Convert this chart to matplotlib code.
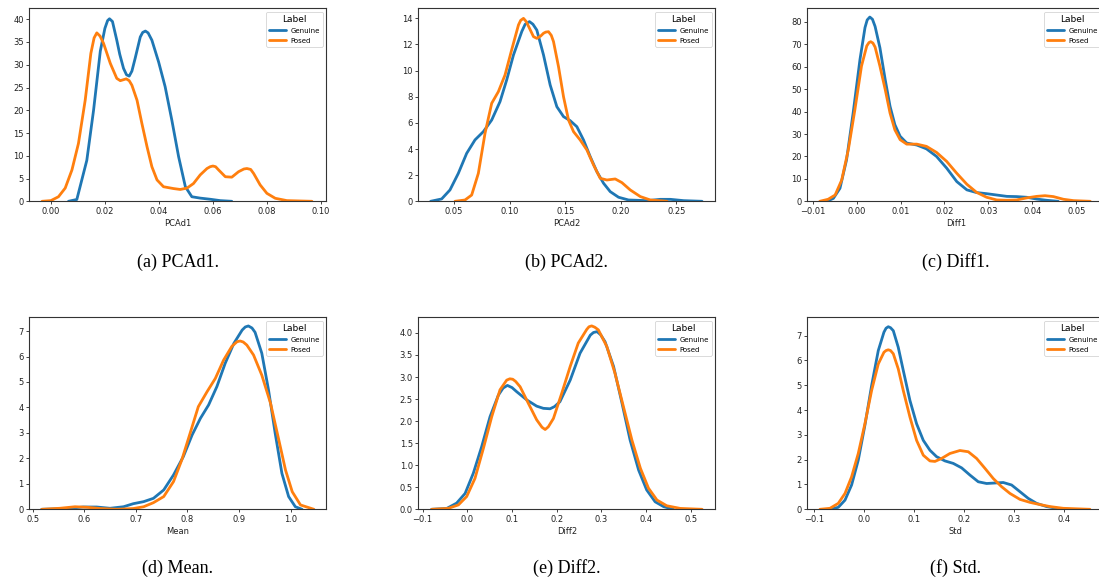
import matplotlib
matplotlib.use("Agg")
import matplotlib.pyplot as plt

# ---------------- data ----------------
labels = ["Genuine", "Posed"]
colors = ["#1f77b4", "#ff7f0e"]

pcad1_gen_x = [0.0065, 0.0096, 0.0133, 0.0158, 0.0183, 0.02, 0.021, 0.0217, 0.0228, 0.0244, 0.0255, 0.0269,
               0.028, 0.029, 0.030, 0.0312, 0.0331, 0.034, 0.035, 0.036, 0.0374, 0.0399, 0.0423, 0.0448,
               0.0473, 0.0498, 0.0522, 0.0553, 0.059, 0.0627, 0.067]
pcad1_gen_y = [0.0, 0.4, 9.0, 20.0, 33.0, 38.0, 39.7, 40.1, 39.5, 35.4, 32.3, 29.2,
               27.8, 27.5, 28.6, 31.4, 36.1, 37.1, 37.4, 37.0, 35.4, 30.6, 25.2, 17.8,
               9.8, 3.2, 1.0, 0.7, 0.45, 0.15, 0.0]
pcad1_pos_x = [-0.0033, 0.0, 0.0028, 0.0053, 0.0078, 0.0102, 0.0127, 0.0148, 0.016, 0.017, 0.0182, 0.0195,
               0.022, 0.0244, 0.0257, 0.0268, 0.0279, 0.0290, 0.03, 0.0319, 0.0337, 0.0356, 0.0374, 0.0393,
               0.0417, 0.0454, 0.0479, 0.0504, 0.0528, 0.0553, 0.0578, 0.059, 0.06, 0.061, 0.0621, 0.0646,
               0.067, 0.0695, 0.0715, 0.0726, 0.074, 0.0751, 0.0775, 0.08, 0.0831, 0.0874, 0.0967]
pcad1_pos_y = [0.0, 0.15, 1.0, 2.9, 6.9, 12.7, 22.2, 32.5, 35.9, 37.0, 36.3, 34.7,
               30.3, 27.0, 26.5, 26.7, 26.9, 26.5, 25.5, 22.2, 17.1, 12.0, 7.6, 4.7,
               3.2, 2.8, 2.6, 2.9, 3.9, 5.8, 7.2, 7.6, 7.75, 7.6, 6.9, 5.4,
               5.3, 6.5, 7.1, 7.2, 7.0, 6.1, 3.6, 1.75, 0.66, 0.15, 0.0]

pcad2_gen_x = [0.029, 0.0389, 0.0464, 0.0539, 0.0614, 0.0689, 0.0764, 0.0839, 0.0914, 0.0974, 0.1035, 0.111,
               0.114, 0.1179, 0.121, 0.1245, 0.1305, 0.1365, 0.1425, 0.1485, 0.1545, 0.1605, 0.1665, 0.1725,
               0.1785, 0.1845, 0.1905, 0.198, 0.207, 0.2236, 0.2356, 0.2446, 0.2566, 0.2731]
pcad2_gen_y = [0.0, 0.18, 0.87, 2.14, 3.67, 4.7, 5.33, 6.22, 7.63, 9.29, 11.2, 13.0,
               13.55, 13.75, 13.55, 13.1, 11.2, 8.9, 7.24, 6.48, 6.17, 5.71, 4.69, 3.42,
               2.27, 1.38, 0.74, 0.31, 0.1, 0.05, 0.15, 0.15, 0.05, 0.0]
pcad2_pos_x = [0.0509, 0.0599, 0.0659, 0.0719, 0.0779, 0.0839, 0.0899, 0.0959, 0.1019, 0.108, 0.110, 0.1125,
               0.115, 0.1179, 0.1215, 0.1245, 0.128, 0.1305, 0.1325, 0.135, 0.1375, 0.1395, 0.144, 0.1485,
               0.153, 0.1575, 0.1635, 0.1695, 0.1755, 0.1815, 0.1875, 0.195, 0.201, 0.2085, 0.2176, 0.2266,
               0.2416]
pcad2_pos_y = [0.0, 0.1, 0.48, 2.14, 5.2, 7.5, 8.39, 9.67, 11.6, 13.5, 13.85, 14.0,
               13.75, 13.24, 12.6, 12.47, 12.65, 12.86, 12.95, 12.98, 12.7, 12.22, 10.3, 8.0,
               6.22, 5.33, 4.69, 3.93, 2.78, 1.76, 1.63, 1.71, 1.43, 0.87, 0.36, 0.1,
               0.0]

diff1_gen_x = [-0.0068, -0.0053, -0.0038, -0.0023, -0.0008, 0.00076, 0.0019, 0.0024, 0.003, 0.0036, 0.0042,
               0.0053, 0.0065, 0.0076, 0.0087, 0.0099, 0.0114, 0.0137, 0.0159, 0.0182, 0.0205, 0.0228,
               0.0251, 0.0273, 0.0296, 0.0319, 0.0342, 0.0364, 0.0387, 0.041, 0.0433, 0.0459]
diff1_gen_y = [0.0, 1.3, 5.8, 18.5, 39.4, 63.3, 77.5, 80.9, 82.2, 81.2, 78.0,
               68.5, 54.3, 42.4, 34.2, 29.0, 26.0, 25.1, 23.4, 20.0, 14.8, 8.8,
               5.1, 3.9, 3.4, 2.8, 2.2, 2.1, 1.8, 1.0, 0.45, 0.0]
diff1_pos_x = [-0.0084, -0.0065, -0.0049, -0.0034, -0.0019, -0.0004, 0.0011, 0.0023, 0.0028, 0.0032, 0.0037,
               0.0042, 0.0053, 0.0065, 0.0076, 0.0087, 0.0099, 0.0114, 0.0137, 0.0159, 0.0182, 0.0205,
               0.0228, 0.0251, 0.0273, 0.0296, 0.0319, 0.0342, 0.0364, 0.0387, 0.041, 0.0429, 0.0448,
               0.0471, 0.0494, 0.0532]
diff1_pos_y = [0.0, 0.9, 2.8, 9.5, 23.0, 40.9, 60.3, 69.3, 70.8, 71.2, 70.6,
               68.8, 60.3, 49.9, 39.4, 31.9, 27.5, 25.5, 25.5, 24.5, 21.8, 17.8,
               12.5, 7.6, 4.0, 1.8, 0.6, 0.45, 0.6, 1.5, 2.2, 2.5, 2.1,
               0.9, 0.3, 0.0]

mean_gen_x = [0.5175, 0.566, 0.598, 0.624, 0.65, 0.676, 0.695, 0.715, 0.734, 0.754, 0.773, 0.792, 0.809,
              0.825, 0.841, 0.857, 0.873, 0.89, 0.906, 0.912, 0.918, 0.925, 0.931, 0.944, 0.957, 0.97,
              0.983, 0.996, 1.009, 1.022]
mean_gen_y = [0.0, 0.03, 0.09, 0.09, 0.04, 0.1, 0.22, 0.3, 0.43, 0.76, 1.35, 2.07, 2.92,
              3.57, 4.1, 4.82, 5.73, 6.52, 7.04, 7.16, 7.2, 7.12, 6.95, 6.13, 4.69, 2.98,
              1.41, 0.5, 0.1, 0.0]
mean_pos_x = [0.5175, 0.553, 0.582, 0.605, 0.631, 0.663, 0.695, 0.715, 0.734, 0.754, 0.773, 0.789, 0.805,
              0.821, 0.838, 0.854, 0.87, 0.886, 0.896, 0.902, 0.908, 0.915, 0.928, 0.944, 0.961, 0.977,
              0.99, 1.003, 1.019, 1.045]
mean_pos_y = [0.0, 0.04, 0.1, 0.08, 0.03, 0.0, 0.03, 0.1, 0.26, 0.5, 1.09, 1.94, 2.98,
              4.03, 4.62, 5.14, 5.86, 6.4, 6.58, 6.61, 6.57, 6.45, 6.06, 5.27, 4.16, 2.72,
              1.54, 0.69, 0.17, 0.0]

diff2_gen_x = [-0.08, -0.046, -0.024, -0.005, 0.0134, 0.032, 0.0507, 0.0694, 0.08, 0.0896, 0.10, 0.11,
               0.133, 0.155, 0.17, 0.185, 0.195, 0.207, 0.23, 0.252, 0.275, 0.282, 0.29, 0.298, 0.308,
               0.327, 0.346, 0.364, 0.383, 0.401, 0.42, 0.439, 0.461]
diff2_gen_y = [0.0, 0.02, 0.14, 0.36, 0.82, 1.42, 2.1, 2.59, 2.75, 2.81, 2.76, 2.67,
               2.48, 2.34, 2.29, 2.28, 2.33, 2.44, 2.93, 3.54, 3.95, 4.01, 4.03, 3.96, 3.8,
               3.24, 2.4, 1.57, 0.89, 0.44, 0.17, 0.06, 0.0]
diff2_pos_x = [-0.08, -0.043, -0.02, -0.0015, 0.017, 0.0358, 0.0545, 0.073, 0.088, 0.095, 0.1015, 0.108,
               0.118, 0.1366, 0.155, 0.167, 0.174, 0.181, 0.1925, 0.211, 0.23, 0.248, 0.267, 0.272, 0.278,
               0.285, 0.293, 0.312, 0.33, 0.349, 0.368, 0.387, 0.405, 0.424, 0.446, 0.476, 0.525]
diff2_pos_y = [0.0, 0.02, 0.1, 0.29, 0.7, 1.38, 2.1, 2.71, 2.93, 2.96, 2.95, 2.9,
               2.78, 2.4, 2.03, 1.86, 1.81, 1.87, 2.06, 2.63, 3.24, 3.77, 4.08, 4.14, 4.16,
               4.13, 4.07, 3.69, 3.09, 2.33, 1.57, 0.93, 0.48, 0.21, 0.08, 0.02, 0.0]

std_gen_x = [-0.068, -0.0514, -0.038, -0.0248, -0.0115, 0.0018, 0.0152, 0.0285, 0.0398, 0.044, 0.0485,
             0.053, 0.0585, 0.0684, 0.0784, 0.0917, 0.105, 0.1184, 0.1317, 0.145, 0.1617, 0.1783, 0.195,
             0.2116, 0.2282, 0.2449, 0.2615, 0.2782, 0.2948, 0.3115, 0.3281, 0.3447, 0.3647, 0.388, 0.411]
std_gen_y = [0.0, 0.08, 0.37, 0.98, 1.98, 3.39, 4.99, 6.4, 7.14, 7.3, 7.36,
             7.32, 7.2, 6.53, 5.6, 4.39, 3.45, 2.78, 2.38, 2.12, 1.95, 1.85, 1.67,
             1.38, 1.11, 1.04, 1.06, 1.08, 0.98, 0.71, 0.44, 0.24, 0.11, 0.03, 0.0]
std_pos_x = [-0.088, -0.068, -0.0514, -0.038, -0.0248, -0.0115, 0.0018, 0.0152, 0.0285, 0.0398, 0.044,
             0.0485, 0.053, 0.0585, 0.0684, 0.0784, 0.0917, 0.105, 0.1184, 0.1317, 0.1417, 0.155, 0.1716,
             0.1916, 0.2083, 0.2249, 0.2416, 0.2582, 0.2749, 0.2915, 0.3115, 0.3314, 0.3514, 0.3714, 0.398,
             0.4513]
std_pos_y = [0.0, 0.04, 0.24, 0.64, 1.31, 2.25, 3.45, 4.79, 5.86, 6.33, 6.4,
             6.43, 6.4, 6.27, 5.66, 4.79, 3.72, 2.78, 2.18, 1.95, 1.93, 2.05, 2.25,
             2.37, 2.32, 2.05, 1.65, 1.24, 0.91, 0.64, 0.4, 0.28, 0.19, 0.11, 0.04,
             0.0]

xlabels = ["PCAd1", "PCAd2", "Diff1", "Mean", "Diff2", "Std"]
captions = ["(a) PCAd1.", "(b) PCAd2.", "(c) Diff1.", "(d) Mean.", "(e) Diff2.", "(f) Std."]
xticks = [
    [0.00, 0.02, 0.04, 0.06, 0.08, 0.10],
    [0.05, 0.10, 0.15, 0.20, 0.25],
    [-0.01, 0.00, 0.01, 0.02, 0.03, 0.04, 0.05],
    [0.5, 0.6, 0.7, 0.8, 0.9, 1.0],
    [-0.1, 0.0, 0.1, 0.2, 0.3, 0.4, 0.5],
    [-0.1, 0.0, 0.1, 0.2, 0.3, 0.4],
]
xtick_fmt = ["{:.2f}", "{:.2f}", "{:.2f}", "{:.1f}", "{:.1f}", "{:.1f}"]
yticks = [
    [0, 5, 10, 15, 20, 25, 30, 35, 40],
    [0, 2, 4, 6, 8, 10, 12, 14],
    [0, 10, 20, 30, 40, 50, 60, 70, 80],
    [0, 1, 2, 3, 4, 5, 6, 7],
    [0.0, 0.5, 1.0, 1.5, 2.0, 2.5, 3.0, 3.5, 4.0],
    [0, 1, 2, 3, 4, 5, 6, 7],
]
ytick_fmt = ["{:d}", "{:d}", "{:d}", "{:d}", "{:.1f}", "{:d}"]
xlims = [(-0.008, 0.102), (0.0179, 0.285), (-0.01124, 0.0564), (0.4935, 1.069), (-0.1097, 0.5545), (-0.1133, 0.48)]
ylims = [(0, 42.4), (0, 14.77), (0, 86.1), (0, 7.54), (0, 4.355), (0, 7.74)]

series = [
    ((pcad1_gen_x, pcad1_gen_y), (pcad1_pos_x, pcad1_pos_y)),
    ((pcad2_gen_x, pcad2_gen_y), (pcad2_pos_x, pcad2_pos_y)),
    ((diff1_gen_x, diff1_gen_y), (diff1_pos_x, diff1_pos_y)),
    ((mean_gen_x, mean_gen_y), (mean_pos_x, mean_pos_y)),
    ((diff2_gen_x, diff2_gen_y), (diff2_pos_x, diff2_pos_y)),
    ((std_gen_x, std_gen_y), (std_pos_x, std_pos_y)),
]

# ---------------- layout ----------------
W, H = 1099, 583
fig = plt.figure(figsize=(W / 100, H / 100), dpi=100)

col_left = [29.3, 418.3, 807.3]
ax_w = 297
rows = [(8.3, 201.3), (317.3, 509.3)]
cap_y = [262, 568]

for i in range(6):
    r, c = divmod(i, 3)
    top, bot = rows[r]
    ax = fig.add_axes([col_left[c] / W, 1 - bot / H, ax_w / W, (bot - top) / H])
    for (sx, sy), lab, col in zip(series[i], labels, colors):
        ax.plot(sx, sy, color=col, lw=2.0, label=lab, solid_joinstyle="round", solid_capstyle="round")
    ax.set_xlim(*xlims[i])
    ax.set_ylim(*ylims[i])
    ax.set_xticks(xticks[i])
    ax.set_xticklabels([xtick_fmt[i].format(v).replace("-", "\u2212") for v in xticks[i]])
    ax.set_yticks(yticks[i])
    ax.set_yticklabels([ytick_fmt[i].format(v) for v in yticks[i]])
    ax.tick_params(labelsize=6, length=2.5, width=0.6, pad=1.5, colors="#222222")
    for s in ax.spines.values():
        s.set_linewidth(0.8)
        s.set_color("#333333")
    ax.set_xlabel(xlabels[i], fontsize=6, labelpad=2, color="#222222")
    leg = ax.legend(title="Label", loc="upper right", fontsize=5, title_fontsize=6.5,
                    handlelength=2.4, borderaxespad=0.5, framealpha=1.0, fancybox=True,
                    borderpad=0.45, labelspacing=0.55, handletextpad=0.6)
    leg.get_frame().set_linewidth(0.5)
    fig.text((col_left[c] + ax_w / 2) / W, 1 - cap_y[r] / H, captions[i],
             fontsize=13, family="Liberation Serif", ha="center", va="center")

fig.savefig("out.png", dpi=100)
